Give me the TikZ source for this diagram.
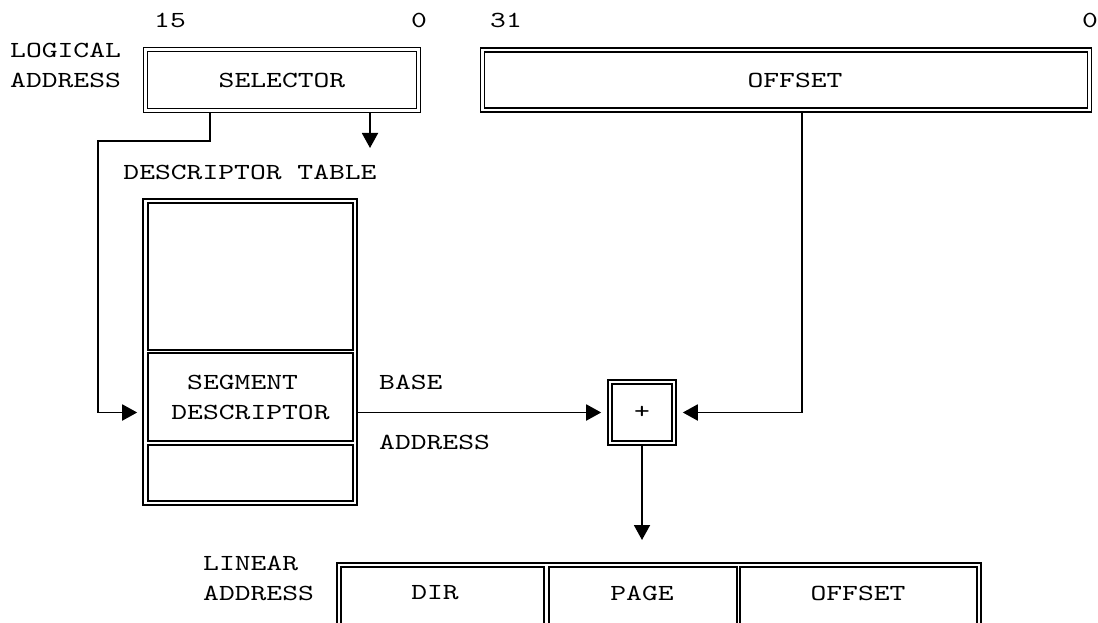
\documentclass[tikz,border=0pt]{standalone}
\usepackage{fontspec}
\usepackage{tikz}
\usetikzlibrary{arrows.meta}
\newfontfamily\diagfont{lmmono10-regular.otf}[FakeStretch=1.31]

\begin{document}
\begin{tikzpicture}[
        x=1pt, y=-1pt,
        every node/.style={font=\diagfont\fontsize{23}{30}\selectfont, inner sep=0pt},
        dbox/.style={rectangle, draw=black, line width=1.6pt, double, double distance=2.4pt},
        frame/.style={rectangle, draw=black, line width=1.6pt},
        cell/.style={rectangle, draw=black, line width=1.7pt},
        link/.style={line width=1.9pt},
        arrow/.style={link, -{Triangle[length=15pt, width=16pt]}}
    ]
        \useasboundingbox (0,0) rectangle (1098,623);
        \clip (0,0) rectangle (1098,623);

        % Logical address
        \node[align=left, anchor=west] (logical) at (10,65) {LOGICAL\\ADDRESS};
        \node (sel_hi) at (170,20) {15};
        \node (sel_lo) at (419,20) {0};
        \node (off_hi) at (506,20) {31};
        \node (off_lo) at (1090,20) {0};
        \node[dbox, minimum width=273pt, minimum height=61pt] (selector) at (282,80) {SELECTOR};
        \node[dbox, minimum width=607pt, minimum height=60pt] (offset) at (786,80) {};
        \node (offset_text) at (795,80) {OFFSET};

        % Descriptor table
        \node (table_label) at (250,172) {DESCRIPTOR TABLE};
        \node[frame, minimum width=214pt, minimum height=306pt] (table) at (250,352) {};
        \node[cell, minimum width=205pt, minimum height=147pt] (table_top) at (250.5,276.5) {};
        \node[cell, minimum width=205pt, minimum height=88pt, align=left] (segdesc) at (250.5,397) {\hphantom{S}SEGMENT\\DESCRIPTOR};
        \node[cell, minimum width=205pt, minimum height=56pt] (table_bot) at (250.5,473) {};

        % Adder
        \node[anchor=west] (base) at (379,382) {BASE};
        \node[anchor=west] (address) at (379,442) {ADDRESS};
        \node[dbox, minimum width=64pt, minimum height=61pt] (plus) at (642,412.5) {+};

        % Linear address
        \node[align=left, anchor=west] (linear) at (203,578) {LINEAR\\ADDRESS};
        \node[frame, anchor=north west, minimum width=644pt, minimum height=120pt] (linframe) at (336,562) {};
        \node[cell, anchor=north west, minimum width=203pt, minimum height=110pt] (dir) at (340,566) {};
        \node[cell, anchor=north west, minimum width=188pt, minimum height=110pt] (page) at (548,566) {};
        \node[cell, anchor=north west, minimum width=237pt, minimum height=110pt] (lin_off) at (739,566) {};
        \node (dir_text) at (435,593) {DIR};
        \node (page_text) at (642,593) {PAGE};
        \node (lin_off_text) at (858,593) {OFFSET};

        % Connections
        \coordinate (sel_idx) at (210,141);
        \coordinate (sel_bend) at (98,141);
        \coordinate (sel_ti) at (370,148);
        \coordinate (off_bend) at (802,412.5);
        \coordinate (lin_in) at (642,540);

        \draw[arrow, shorten <=2pt, shorten >=5pt] (selector.south -| sel_idx) -- (sel_idx) -- (sel_bend) |- (table.west |- plus);
        \draw[arrow, shorten <=2pt] (selector.south -| sel_ti) -- (sel_ti);
        \draw[arrow, shorten >=8pt] (table.east |- plus) -- (plus.west);
        \draw[arrow, shorten <=2pt, shorten >=8pt] (offset.south -| off_bend) -- (off_bend) -- (plus.east);
        \draw[arrow, shorten <=2pt] (plus.south) -- (lin_in);

\end{tikzpicture}
\end{document}
